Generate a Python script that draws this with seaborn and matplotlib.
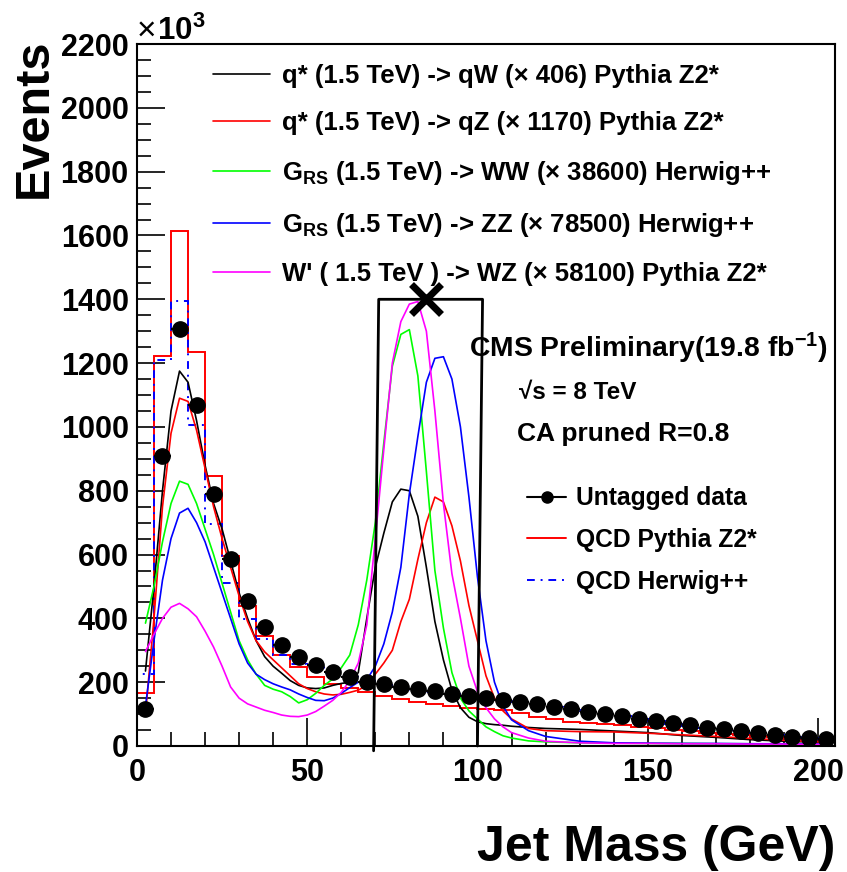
import numpy as np
import seaborn as sns
import matplotlib
matplotlib.use("Agg")
import matplotlib.pyplot as plt
from matplotlib.lines import Line2D
from matplotlib.ticker import MultipleLocator

# ---- data (jet mass in GeV, events in units of 10^3) ----
bin_edges = np.arange(0, 210, 5)
bin_centers = bin_edges[:-1] + 2.5

data_events = [115, 910, 1307, 1069, 790, 587, 455, 373, 317, 280,
               253, 231, 217, 201, 193, 186, 178, 171, 163, 157,
               150, 144, 139, 132, 123, 115, 108, 101, 94, 86,
               77, 71, 65, 57, 52, 47, 41, 34, 28, 24, 21]

qcd_pythia = [165, 1222, 1615, 1236, 847, 596, 440, 345, 284, 249,
              215, 193, 183, 169, 156, 147, 139, 131, 125, 120,
              116, 112, 102, 92, 84, 76, 72, 69, 65, 61,
              55, 50, 46, 42, 38, 34, 30, 27, 24, 21, 18]

qcd_herwig = [225, 1210, 1396, 1006, 696, 511, 398, 335, 285, 257,
              250, 229, 216, 205, 190, 184, 176, 169, 162, 156,
              149, 143, 138, 131, 122, 114, 107, 100, 93, 85,
              77, 70, 64, 57, 51, 46, 40, 34, 28, 24, 21]

sig_x = [2.5, 5, 7.5, 10, 12.5, 15, 17.5, 20, 22.5, 25, 27.5, 30, 32.5, 35,
         37.5, 40, 42.5, 45, 47.5, 50, 52.5, 55, 57.5, 60, 62.5, 65, 67.5, 70,
         72.5, 75, 77.5, 80, 82.5, 85, 87.5, 90, 92.5, 95, 97.5, 100, 102.5,
         105, 107.5, 110, 115, 120, 130, 140, 150, 160, 170, 180, 190, 202.5]

qstar_qw = [235, 500, 800, 1050, 1175, 1140, 1020, 880, 760, 680, 580, 480,
            400, 330, 280, 250, 228, 205, 190, 182, 180, 182, 190, 196, 200,
            230, 400, 560, 667, 765, 805, 800, 720, 560, 390, 270, 175, 120,
            90, 76, 70, 67, 65, 62, 58, 55, 52, 47, 42, 33, 27, 20, 15, 11]

qstar_qz = [100, 400, 750, 980, 1090, 1080, 990, 870, 750, 650, 560, 470,
            390, 330, 295, 270, 245, 220, 195, 180, 170, 163, 160, 162, 168,
            175, 190, 225, 260, 300, 390, 460, 585, 700, 780, 765, 690, 580,
            440, 330, 220, 150, 110, 85, 55, 48, 45, 44, 40, 35, 30, 24, 18, 12]

grs_ww = [385, 500, 640, 760, 830, 820, 760, 680, 600, 510, 420, 330, 270,
          225, 190, 178, 170, 155, 135, 145, 165, 190, 210, 245, 285, 380,
          520, 700, 950, 1190, 1290, 1305, 1160, 860, 550, 370, 230, 150,
          110, 85, 60, 45, 32, 25, 16, 13, 10, 9, 8, 8, 7, 7, 6, 5]

grs_zz = [125, 330, 520, 650, 730, 745, 700, 640, 560, 480, 400, 320, 260,
          225, 208, 195, 185, 176, 163, 152, 143, 142, 150, 165, 183, 200,
          208, 250, 320, 420, 560, 790, 970, 1140, 1215, 1220, 1150, 1000,
          780, 530, 330, 200, 125, 82, 48, 30, 15, 10, 9, 8, 8, 7, 7, 6]

wprime_wz = [296, 350, 400, 435, 447, 430, 405, 360, 310, 250, 185, 150,
             132, 122, 112, 105, 97, 93, 92, 97, 108, 125, 143, 168, 205,
             260, 380, 650, 930, 1200, 1330, 1385, 1393, 1300, 1050, 760,
             540, 400, 250, 170, 120, 85, 60, 42, 25, 15, 10, 8, 8, 7, 7,
             6, 6, 5]

signal_labels = [
    "q* (1.5 TeV) -> qW (\u00d7 406) Pythia Z2*",
    "q* (1.5 TeV) -> qZ (\u00d7 1170) Pythia Z2*",
    "G$_{RS}$ (1.5 TeV) -> WW (\u00d7 38600) Herwig++",
    "G$_{RS}$ (1.5 TeV) -> ZZ (\u00d7 78500) Herwig++",
    "W' ( 1.5 TeV ) -> WZ (\u00d7 58100) Pythia Z2*",
]
signal_colors = ["black", "#ff0000", "#00ff00", "#0000ff", "#ff00ff"]

window_lo, window_hi, window_top = 70, 100, 1400
peak_x, peak_y = 85, 1400

# ---- style ----
sns.set_style("white")
plt.rcParams["font.family"] = ["Liberation Sans", "DejaVu Sans"]
plt.rcParams["font.weight"] = "bold"
plt.rcParams["text.color"] = "black"
plt.rcParams["axes.labelcolor"] = "black"
plt.rcParams["xtick.color"] = "black"
plt.rcParams["ytick.color"] = "black"
plt.rcParams["mathtext.fontset"] = "custom"
plt.rcParams["mathtext.bf"] = "Liberation Sans:bold"
plt.rcParams["mathtext.rm"] = "Liberation Sans:bold"
plt.rcParams["mathtext.default"] = "bf"

fig = plt.figure(figsize=(8.47, 8.72), dpi=100)
ax = fig.add_axes([0.1617, 0.1445, 0.8241, 0.805])

# QCD histograms
ax.stairs(qcd_pythia, bin_edges, color="#ff0000", linewidth=1.4)
ax.stairs(qcd_herwig, bin_edges, color="#0000ff", linewidth=1.4,
          linestyle=(0, (4, 3, 1, 3)))

# signal shapes
signals = [qstar_qw, qstar_qz, grs_ww, grs_zz, wprime_wz]
for vals, col in zip(signals, signal_colors):
    sns.lineplot(x=sig_x, y=vals, color=col, linewidth=1.2, ax=ax)

# data
ax.errorbar(bin_centers, data_events, xerr=2.5, fmt="o", color="black",
            ms=11, elinewidth=1.5, capsize=0, zorder=5)

# mass window and peak marker
ax.plot([window_lo - 0.5, window_lo + 1, window_hi + 1.5, window_hi],
        [-15, window_top, window_top, 0], color="black", lw=2, zorder=6,
        clip_on=False)
ax.plot([peak_x], [peak_y], marker="x", ms=22, mew=5, color="black", zorder=7)

ax.set_xlim(0, 205)
ax.set_ylim(0, 2200)
ax.xaxis.set_major_locator(MultipleLocator(50))
ax.xaxis.set_minor_locator(MultipleLocator(10))
ax.yaxis.set_major_locator(MultipleLocator(200))
ax.yaxis.set_minor_locator(MultipleLocator(50))
ax.tick_params(which="both", direction="in", top=False, right=False,
               bottom=True, left=True, labelsize=22, width=1.2,
               color="black", labelcolor="black")
ax.tick_params(which="major", length=20)
ax.tick_params(which="minor", length=10)
ax.tick_params(axis="y", pad=6)
ax.tick_params(axis="x", pad=9)
for lab in ax.get_xticklabels() + ax.get_yticklabels():
    lab.set_fontweight("bold")
for sp in ax.spines.values():
    sp.set_linewidth(1.5)
    sp.set_color("black")

ax.set_ylabel("Events", fontsize=35, fontweight="bold", loc="top")
ax.yaxis.set_label_coords(-0.115, 1.008)
ax.set_xlabel("Jet Mass (GeV)", fontsize=36, fontweight="bold", loc="right")
ax.xaxis.set_label_coords(1.0, -0.113)

# axis multiplier
ax.text(0.0, 1.006, "\u00d7", transform=ax.transAxes, fontsize=24,
        fontweight="normal", ha="left", va="baseline")
ax.text(0.029, 1.006, "10$^{3}$", transform=ax.transAxes, fontsize=22.5,
        fontweight="bold", ha="left", va="baseline")

# legends
sig_handles = [Line2D([], [], color=c, lw=1.2) for c in signal_colors]
leg1 = ax.legend(sig_handles, signal_labels, loc="upper left",
                 bbox_to_anchor=(0.109, 0.972), frameon=False, fontsize=18.5,
                 handlelength=2.2, handletextpad=0.5, labelspacing=0.92,
                 borderpad=0, borderaxespad=0)
ax.add_artist(leg1)

bkg_handles = [
    Line2D([], [], color="black", marker="o", ms=8, lw=1.5),
    Line2D([], [], color="#ff0000", lw=1.4),
    Line2D([], [], color="#0000ff", lw=1.4, linestyle=(0, (4, 3, 1, 3))),
]
bkg_labels = ["Untagged data", "QCD Pythia Z2*", "QCD Herwig++"]
ax.legend(bkg_handles, bkg_labels, loc="upper left",
          bbox_to_anchor=(0.559, 0.37), frameon=False, fontsize=17.7,
          handlelength=1.6, handletextpad=0.4, labelspacing=0.72,
          borderpad=0, borderaxespad=0)

ax.text(0.475, 0.566, "CMS Preliminary(19.8 fb$^{-1}$)", transform=ax.transAxes,
        fontsize=20.4, fontweight="bold", ha="left", va="center")
ax.text(0.548, 0.504, "\u221as = 8 TeV", transform=ax.transAxes,
        fontsize=17.5, fontweight="bold", ha="left", va="center")
ax.text(0.545, 0.444, "CA pruned R=0.8", transform=ax.transAxes,
        fontsize=19, fontweight="bold", ha="left", va="center")

fig.savefig("out.png", dpi=100)
